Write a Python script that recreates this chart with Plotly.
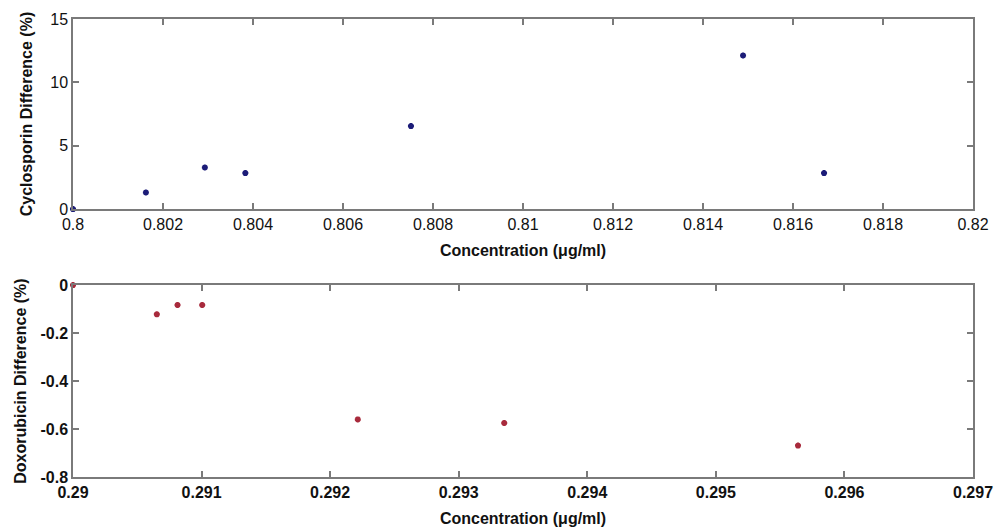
import plotly.graph_objects as go

# Cyclosporin (top panel)
cyc_conc = [0.8000, 0.80162, 0.80293, 0.80383, 0.80751, 0.81489, 0.81669]
cyc_diff = [0.0, 1.31, 3.28, 2.84, 6.55, 12.12, 2.84]

# Doxorubicin (bottom panel)
dox_conc = [0.2900, 0.290652, 0.290813, 0.291005, 0.292215, 0.293354, 0.295639]
dox_diff = [0.0, -0.122, -0.083, -0.083, -0.560, -0.575, -0.669]

top_xticks = [0.800, 0.802, 0.804, 0.806, 0.808, 0.810, 0.812, 0.814, 0.816, 0.818, 0.820]
top_xtext = ["0.8", "0.802", "0.804", "0.806", "0.808", "0.81", "0.812", "0.814", "0.816", "0.818", "0.82"]
top_yticks = [0, 5, 10, 15]
top_ytext = ["0", "5", "10", "15"]

bot_xticks = [0.290, 0.291, 0.292, 0.293, 0.294, 0.295, 0.296, 0.297]
bot_xtext = ["0.29", "0.291", "0.292", "0.293", "0.294", "0.295", "0.296", "0.297"]
bot_yticks = [-0.8, -0.6, -0.4, -0.2, 0]
bot_ytext = ["-0.8", "-0.6", "-0.4", "-0.2", "0"]

FONT = "Liberation Sans, Arial, sans-serif"
AX = "#7a7a7a"

fig = go.Figure()
fig.add_trace(go.Scatter(
    x=cyc_conc, y=cyc_diff, mode="markers", xaxis="x", yaxis="y",
    marker=dict(symbol="asterisk-open", size=5, color="#1c1c78",
                line=dict(width=2, color="#1c1c78")),
    showlegend=False, cliponaxis=False))
fig.add_trace(go.Scatter(
    x=dox_conc, y=dox_diff, mode="markers", xaxis="x2", yaxis="y2",
    marker=dict(symbol="asterisk-open", size=5, color="#a82a3c",
                line=dict(width=2, color="#a82a3c")),
    showlegend=False, cliponaxis=False))

common = dict(showgrid=False, zeroline=False, showline=True, linecolor=AX,
              linewidth=1.5, mirror="ticks", ticks="inside", ticklen=6,
              tickcolor=AX, tickwidth=1.5, automargin=False)

fig.update_layout(
    width=1005, height=529,
    margin=dict(l=73, r=32, t=19, b=52),
    paper_bgcolor="white", plot_bgcolor="white",
    font=dict(family=FONT, size=16, color="#111"),
    xaxis=dict(common, domain=[0, 1], anchor="y", range=[0.8, 0.82],
               tickvals=top_xticks, ticktext=top_xtext,
               tickfont=dict(size=16),
               title=dict(text="<b>Concentration (μg/ml)</b>", font=dict(size=16), standoff=13)),
    yaxis=dict(common, domain=[0.585, 1], anchor="x", range=[0, 15],
               tickvals=top_yticks, ticktext=top_ytext,
               tickfont=dict(size=16),
               title=dict(text="<b>Cyclosporin Difference (%)</b>", font=dict(size=16), standoff=14)),
    xaxis2=dict(common, domain=[0, 1], anchor="y2", range=[0.29, 0.297],
                tickvals=bot_xticks, ticktext=["<b>%s</b>" % t for t in bot_xtext],
                tickfont=dict(size=16),
                title=dict(text="<b>Concentration (μg/ml)</b>", font=dict(size=16), standoff=13)),
    yaxis2=dict(common, domain=[0, 0.419], anchor="x2", range=[-0.8, 0],
                tickvals=bot_yticks, ticktext=["<b>%s</b>" % t for t in bot_ytext],
                tickfont=dict(size=16),
                title=dict(text="<b>Doxorubicin Difference (%)</b>", font=dict(size=16), standoff=10)),
)

fig.write_html("out.html", config={"displayModeBar": False},
               post_script="document.body.style.margin='0';document.body.style.overflow='hidden';")
